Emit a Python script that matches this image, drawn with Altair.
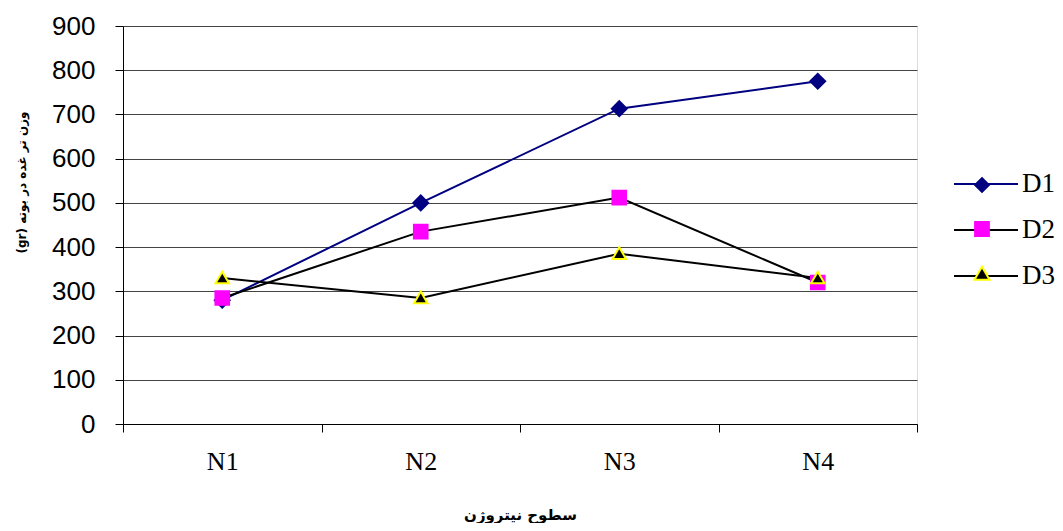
import altair as alt
import pandas as pd

levels = ["N1", "N2", "N3", "N4"]
series = ["D1", "D2", "D3"]
d1 = [280, 500, 713, 775]
d2 = [285, 435, 512, 320]
d3 = [330, 285, 385, 330]
y_ticks = [0, 100, 200, 300, 400, 500, 600, 700, 800, 900]

rows = []
for s, vals in zip(series, [d1, d2, d3]):
    for l, v in zip(levels, vals):
        rows.append({"level": l, "series": s, "marker": s, "msize": s, "value": v})
df = pd.DataFrame(rows)

W, H = 794, 398
TRIANGLE = "M0,-1.05L1.1,0.85L-1.1,0.85Z"

x = alt.X(
    "level:N", sort=levels,
    scale=alt.Scale(type="band", paddingInner=0, paddingOuter=0),
    axis=alt.Axis(
        title="سطوح نیتروژن", tickBand="extent", labelAngle=0,
        labelFont="Liberation Serif", labelFontSize=26, labelColor="black",
        labelPadding=16, tickSize=8, tickColor="black", domainColor="black",
        titleFont="DejaVu Sans", titleFontSize=15, titleFontWeight="bold",
        titleColor="black", titleY=95, titleBaseline="alphabetic", grid=False,
    ),
)
y = alt.Y(
    "value:Q",
    scale=alt.Scale(domain=[0, 900], nice=False, zero=True),
    axis=alt.Axis(
        title="(gr) وزن تر غده در بوته", values=y_ticks,
        labelFont="Liberation Sans", labelFontSize=26, labelColor="black",
        labelPadding=20, tickSize=8, tickColor="black", domainColor="black",
        gridColor="#444444", gridWidth=1,
        titleFont="DejaVu Sans", titleFontSize=12, titleFontWeight="bold",
        titleColor="black", titleX=-102, titleY=156, titleAngle=-90,
        titleBaseline="middle", titleAlign="center",
    ),
)

line_legend = alt.Legend(
    title=None, orient="none", legendX=830, legendY=125, padding=0,
    symbolType="stroke", symbolSize=4096, symbolStrokeWidth=2,
    labelFont="Liberation Serif", labelFontSize=27, labelColor="black",
    labelOffset=3, rowPadding=-3.5,
)
point_legend = alt.Legend(
    title=None, orient="none", legendX=851, legendY=151, padding=0,
    symbolSize=190, symbolStrokeWidth=2, symbolOpacity=1,
    labelExpr="''", labelFontSize=1, labelOffset=0, rowPadding=22,
)

lines = alt.Chart(df).mark_line(strokeWidth=2).encode(
    x=x, y=y,
    color=alt.Color("series:N", scale=alt.Scale(range=["#000080", "#000000", "#000000"]),
                    legend=line_legend),
)
points = alt.Chart(df).mark_point(filled=True, opacity=1, strokeWidth=2).encode(
    x=x, y=y,
    shape=alt.Shape("marker:N", scale=alt.Scale(range=["diamond", "square", TRIANGLE]),
                    legend=point_legend),
    fill=alt.Fill("marker:N", scale=alt.Scale(range=["#000080", "#FF00FF", "#000000"]),
                  legend=point_legend),
    stroke=alt.Stroke("marker:N", scale=alt.Scale(range=["#000080", "#FF00FF", "#FFFF00"]),
                      legend=point_legend),
    size=alt.Size("msize:N", scale=alt.Scale(range=[220, 150, 200]), legend=None),
)

chart = alt.layer(lines, points).properties(
    width=W, height=H,
    autosize=alt.AutoSizeParams(type="none"),
    padding={"left": 115, "top": 18, "right": 138, "bottom": 99},
).configure_view(stroke="#888888", strokeWidth=2).configure(background="white")

chart.save("out.html", embed_options={"renderer": "svg", "actions": False})
